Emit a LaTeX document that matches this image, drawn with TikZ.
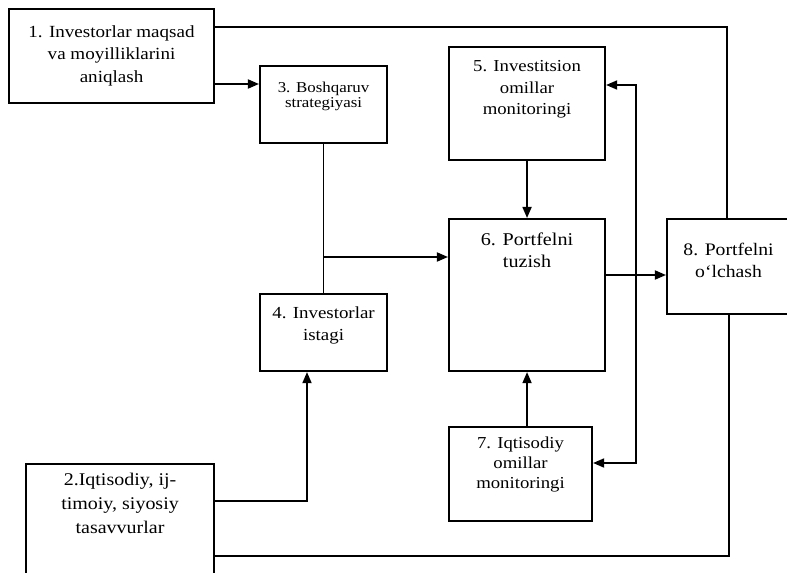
\documentclass[tikz,border=0pt]{standalone}
\usepackage{fontspec}
\setmainfont{Liberation Serif}[FakeStretch=1.12]
\usetikzlibrary{arrows.meta,positioning,calc}

\def\px{0.254mm}
\tikzset{
  blk/.style 2 args={draw, line width=1.5pt, inner sep=0pt, anchor=north west,
    minimum width=#1*\px, minimum height=#2*\px},
  lbl/.style={anchor=north, align=center, inner sep=0pt},
  con/.style={line width=1.3pt},
  arr/.style={con, -{Triangle[length=8pt,width=6.5pt]}},
  arrs/.style={con, {Triangle[length=8pt,width=6.5pt]}-{Triangle[length=8pt,width=6.5pt]}}
}

\begin{document}
\begin{tikzpicture}[x=0.254mm, y=-0.254mm]
  \useasboundingbox (0,0) rectangle (787,573);
  \clip (0,0) rectangle (787,573);

  % boxes
  \node[blk={205}{94}] (b1) at (8,8) {};
  \node[blk={188}{140}] (b2) at (25,463) {};
  \node[blk={127}{77}] (b3) at (259,65) {};
  \node[blk={127}{77}] (b4) at (259,293) {};
  \node[blk={156}{113}] (b5) at (448,46) {};
  \node[blk={156}{152}] (b6) at (448,218) {};
  \node[blk={143}{94}] (b7) at (448,426) {};
  \node[blk={123}{95}] (b8) at (666,218) {};

  % texts
  \node[lbl, font=\fontsize{12.3}{16.2}\selectfont] (t1) at ($(b1.north)+(0,17.3)$)
    {1. Investorlar maqsad\\va moyilliklarini\\aniqlash};
  \node[lbl, font=\fontsize{12.9}{17.3}\selectfont] (t2) at ($(b2.north)+(0,9.7)$)
    {2.Iqtisodiy, ij-\\timoiy, siyosiy\\tasavvurlar};
  \node[lbl, font=\fontsize{10.9}{11}\selectfont] (t3) at ($(b3.north)+(0,16.6)$)
    {3. Boshqaruv\\strategiyasi};
  \node[lbl, font=\fontsize{12.2}{15.8}\selectfont] (t4) at ($(b4.north)+(0,13.3)$)
    {4. Investorlar\\istagi};
  \node[lbl, font=\fontsize{12.1}{15.5}\selectfont] (t5) at ($(b5.north)+(0,14.4)$)
    {5. Investitsion\\omillar\\monitoringi};
  \node[lbl, font=\fontsize{13}{16}\selectfont] (t6) at ($(b6.north)+(0,14.6)$)
    {6. Portfelni\\tuzish};
  \node[lbl, font=\fontsize{12.1}{14.4}\selectfont] (t7) at ($(b7.north)+(0,10.4)$)
    {7. Iqtisodiy\\omillar\\monitoringi};
  \node[lbl, font=\fontsize{12.7}{16}\selectfont] (t8) at ($(b8.north)+(0,24.9)$)
    {8. Portfelni\\o‘lchash};

  % bend points
  \coordinate (p1) at (727,27);
  \coordinate (p2) at (0,84);
  \coordinate (p3) at (0,257);
  \coordinate (p4) at (0,275);
  \coordinate (p5) at (636,85);
  \coordinate (p6) at (636,463);
  \coordinate (p7) at (307,501);
  \coordinate (p8) at (729,556);

  % connectors
  \draw[con] (b1.east |- p1) -- (p1) -- (p1 |- b8.north);
  \draw[arr] (b1.east |- p2) -- (b3.west |- p2);
  \draw[con] (b3.south) -- (b4.north);
  \draw[arr] (b3.south |- p3) -- (b6.west |- p3);
  \draw[arr] (b5) -- (b6);
  \draw[arr] (b7.north -| b6.south) -- (b6.south);
  \draw[arr] (b6.east |- p4) -- (b8.west |- p4);
  \draw[arrs] (b5.east |- p5) -- (p5) -- (p6) -- (b7.east |- p6);
  \draw[arr] (b2.east |- p7) -- (p7) -- (p7 |- b4.south);
  \draw[con] (p8 |- b8.south) -- (p8) -- (b2.east |- p8);
\end{tikzpicture}
\end{document}
